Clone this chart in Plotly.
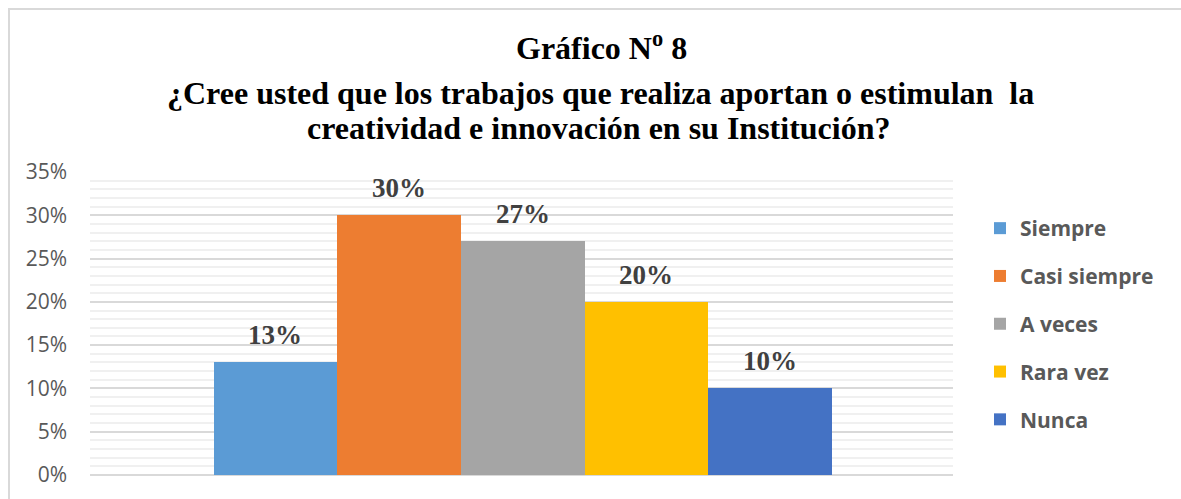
import plotly.graph_objects as go

# Survey answers and their shares
categories = ["Siempre", "Casi siempre", "A veces", "Rara vez", "Nunca"]
values = [0.13, 0.30, 0.27, 0.20, 0.10]
colors = ["#5B9BD5", "#ED7D31", "#A5A5A5", "#FFC000", "#4472C4"]
y_ticks = [0, 0.05, 0.10, 0.15, 0.20, 0.25, 0.30, 0.35]
y_tick_labels = ["0%", "5%", "10%", "15%", "20%", "25%", "30%", "35%"]
title_lines = [
    "Gráfico N<sup>o</sup> 8",
    "¿Cree usted que los trabajos que realiza aportan o estimulan  la",
    "creatividad e innovación en su Institución?",
]

W, H = 1181, 499
L, R, T, B = 90, 228, 172, 24
pw, ph = W - L - R, H - T - B
SERIF = "Liberation Serif"


def px_x(x):
    return (x - L) / pw


def px_y(y):
    return (H - B - y) / ph


fig = go.Figure()
for name, val, col in zip(categories, values, colors):
    fig.add_trace(go.Bar(
        x=[name], y=[val], name=f"<b>{name}</b>",
        marker=dict(color=col, line=dict(width=0)),
        legendgroup=name,
        hoverinfo="skip",
    ))
    fig.add_annotation(
        x=name, y=val, xref="x", yref="y",
        text=f"<b>{round(val * 100)}%</b>",
        showarrow=False, yanchor="bottom", yshift=10,
        font=dict(family=SERIF, size=27, color="#404040"),
    )

# Title, one annotation per line
for text, cx, cy in zip(title_lines, [601, 600, 598], [46, 93, 128]):
    fig.add_annotation(
        x=px_x(cx), y=px_y(cy), xref="paper", yref="paper",
        xanchor="center", yanchor="middle",
        text=f"<b>{text}</b>", showarrow=False,
        font=dict(family=SERIF, size=32, color="#000000"),
    )

# Chart frame (top and left edges)
frame = dict(color="#D9D9D9", width=2)
fig.add_shape(type="line", xref="paper", yref="paper",
              x0=px_x(8), x1=px_x(W + 5), y0=px_y(9), y1=px_y(9), line=frame)
fig.add_shape(type="line", xref="paper", yref="paper",
              x0=px_x(9), x1=px_x(9), y0=px_y(8), y1=px_y(H + 5), line=frame)

fig.update_layout(
    width=W, height=H,
    margin=dict(l=L, r=R, t=T, b=B, pad=0),
    paper_bgcolor="white", plot_bgcolor="white",
    barmode="relative", bargap=0,
    showlegend=True,
    legend=dict(
        x=px_x(980), y=px_y(208), xanchor="left", yanchor="top",
        font=dict(family="Open Sans", size=21, color="#595959"),
        tracegroupgap=17.5, itemwidth=30,
    ),
    xaxis=dict(
        type="category", range=[-1.5, 5.48],
        showticklabels=False, showgrid=False, zeroline=False,
        showline=False, ticks="",
    ),
    yaxis=dict(
        range=[0, 0.35], tickvals=y_ticks, ticktext=y_tick_labels,
        tickfont=dict(family="Open Sans", size=21, color="#595959"),
        showgrid=True, gridcolor="#D9D9D9", gridwidth=1.5,
        minor=dict(dtick=0.01, showgrid=True, gridcolor="#F0F0F0", gridwidth=1.5),
        zeroline=True, zerolinecolor="#D9D9D9", zerolinewidth=1.5,
        showline=False, ticks="", ticklabelstandoff=22,
    ),
)

fig.write_html("out.html")
